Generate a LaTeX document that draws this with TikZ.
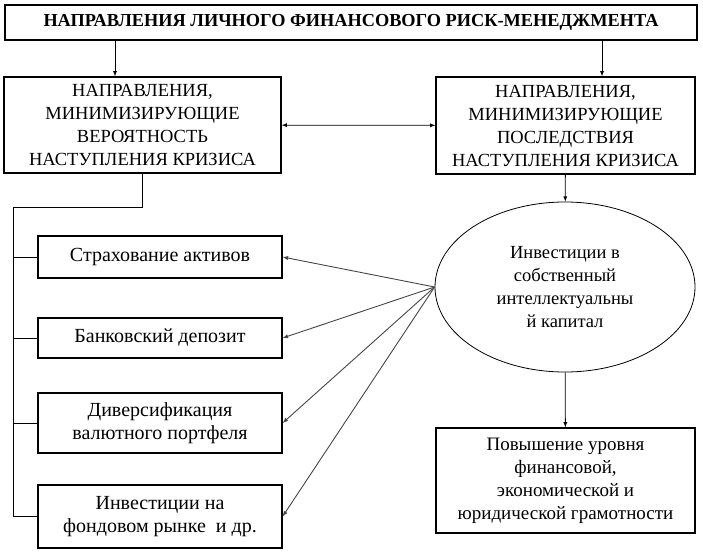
\documentclass[tikz,border=0pt]{standalone}
\usepackage{fontspec}
\setmainfont{Liberation Serif}
\usetikzlibrary{shapes.geometric}
\begin{document}
\begin{tikzpicture}[x=1pt,y=-1pt,>=latex,
  every node/.style={font=\fontsize{18.5}{23}\selectfont,align=center,inner sep=0pt},
  box/.style={draw,line width=1.2pt,minimum width=#1},
  small/.style={font=\fontsize{20}{23}\selectfont},
  link/.style={line width=0.8pt}]
\useasboundingbox (0,0) rectangle (703,553);
% title and the two main directions
\node[box=692,minimum height=35,font=\bfseries\fontsize{18.3}{20}\selectfont] (title) at (351,22.5) {НАПРАВЛЕНИЯ ЛИЧНОГО ФИНАНСОВОГО РИСК-МЕНЕДЖМЕНТА};
\node[box=277,minimum height=96] (prob) at (142.5,125) {НАПРАВЛЕНИЯ,\\МИНИМИЗИРУЮЩИЕ\\ВЕРОЯТНОСТЬ\\НАСТУПЛЕНИЯ КРИЗИСА};
\node[box=259,minimum height=97] (cons) at (565.5,125.5) {НАПРАВЛЕНИЯ,\\МИНИМИЗИРУЮЩИЕ\\ПОСЛЕДСТВИЯ\\НАСТУПЛЕНИЯ КРИЗИСА};
% left column
\node[box=244,small,minimum height=42] (insur) at (160,257) {Страхование активов};
\node[box=244,small,minimum height=40] (depos) at (160,338) {Банковский депозит};
\node[box=244,small,minimum height=60] (diver) at (160,423) {Диверсификация\\валютного портфеля};
\node[box=244,small,minimum height=63] (stock) at (160,516.5) {Инвестиции на\\фондовом рынке\ \ и др.};
% right column
\node[draw,line width=0.8pt,ellipse,minimum width=260,minimum height=170] (invest) at (565,287) {Инвестиции в\\собственный\\интеллектуальны\\й капитал};
\node[box=259,minimum height=105,font=\fontsize{19}{23}\selectfont] (liter) at (565.5,480.5) {Повышение уровня\\финансовой,\\экономической и\\юридической грамотности};
% connectors
\coordinate (tl) at (115,0);
\coordinate (tr) at (602,0);
\coordinate (trunk) at (13,207);
\draw[link,->] (title.south -| tl) -- (prob.north -| tl);
\draw[link,->] (title.south -| tr) -- (cons.north -| tr);
\draw[link,<->] (prob) -- (cons);
\draw[link,->] (cons) -- (invest);
\draw[link,->] (invest) -- (liter);
\draw[link] (prob.south) |- (trunk) -- (trunk |- stock.west) -- (stock.west);
\foreach \b in {insur,depos,diver}
  \draw[link] (trunk |- \b.west) -- (\b.west);
\foreach \b in {insur,depos,diver,stock}
  \draw[link,->,gray!55!black,line width=0.9pt] (invest.west) -- (\b.east);
\end{tikzpicture}
\end{document}
